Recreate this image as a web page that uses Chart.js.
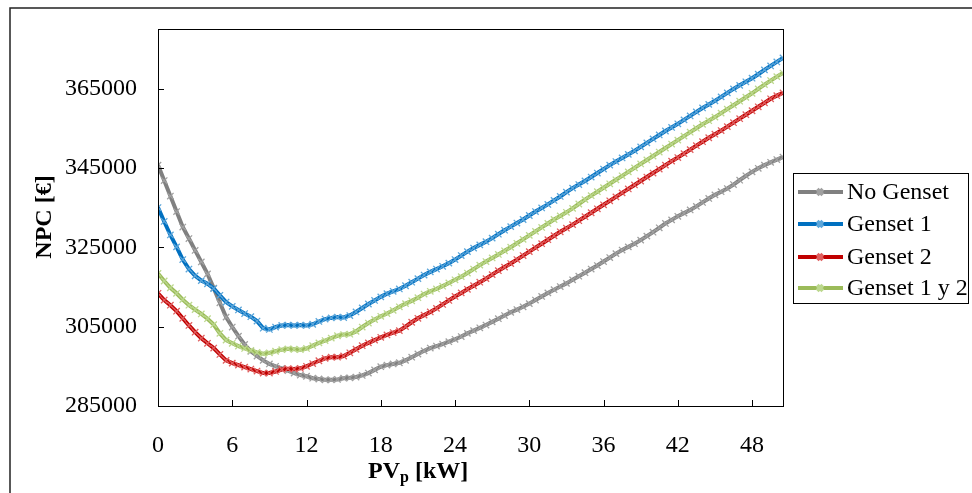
<!DOCTYPE html>
<html>
<head>
<meta charset="utf-8">
<script src="https://cdn.jsdelivr.net/npm/chart.js@4.4.0/dist/chart.umd.min.js"></script>
<style>
  html, body { margin: 0; padding: 0; background: #fff; }
  #wrap { width: 972px; height: 493px; }
</style>
</head>
<body>
<div id="wrap"><canvas id="npcChart" width="972" height="493"></canvas></div>
<script>
// PV power (kW) for each simulated case
const pvKw = [
    0, 0.5, 1, 1.5, 2, 2.5, 3, 3.5, 4, 4.5,
    5, 5.5, 6, 6.5, 7, 7.5, 8, 8.5, 9, 9.5,
    10, 10.5, 11, 11.5, 12, 12.5, 13, 13.5, 14, 14.5,
    15, 15.5, 16, 16.5, 17, 17.5, 18, 18.5, 19, 19.5,
    20, 20.5, 21, 21.5, 22, 22.5, 23, 23.5, 24, 24.5,
    25, 25.5, 26, 26.5, 27, 27.5, 28, 28.5, 29, 29.5,
    30, 30.5, 31, 31.5, 32, 32.5, 33, 33.5, 34, 34.5,
    35, 35.5, 36, 36.5, 37, 37.5, 38, 38.5, 39, 39.5,
    40, 40.5, 41, 41.5, 42, 42.5, 43, 43.5, 44, 44.5,
    45, 45.5, 46, 46.5, 47, 47.5, 48, 48.5, 49, 49.5,
    50, 50.5
];

// NPC in euro per configuration
const noGenset = [
    345700, 341800, 337900, 334000, 330100, 327200, 324200, 321300, 318300, 314700,
    311000, 307400, 304900, 302600, 300500, 298800, 297600, 296500, 295600, 295000,
    294500, 293900, 293300, 292800, 292500, 292000, 291800, 291600, 291600, 291700,
    292000, 292100, 292300, 292700, 293300, 294100, 294900, 295300, 295600, 295900,
    296500, 297300, 298100, 298900, 299600, 300100, 300600, 301200, 301800, 302500,
    303300, 304000, 304700, 305400, 306200, 307000, 307800, 308600, 309300, 310000,
    310800, 311700, 312600, 313500, 314300, 315100, 315900, 316800, 317700, 318600,
    319500, 320400, 321400, 322400, 323400, 324300, 325100, 325900, 326800, 327800,
    328800, 329900, 331000, 331900, 332800, 333600, 334400, 335300, 336300, 337300,
    338200, 339000, 339800, 340800, 341900, 343000, 344000, 344900, 345700, 346400,
    347100, 347700
];
const genset1 = [
    335000, 331500, 328100, 325100, 321900, 319500, 317800, 316600, 315800, 314600,
    312900, 311200, 310100, 309200, 308300, 307500, 306400, 304600, 304300, 304900,
    305300, 305400, 305300, 305400, 305300, 305600, 306300, 306900, 307200, 307400,
    307300, 307800, 308700, 309700, 310700, 311600, 312500, 313300, 313900, 314500,
    315300, 316200, 317100, 318000, 318800, 319500, 320200, 321000, 321900, 322900,
    323900, 324800, 325600, 326400, 327300, 328300, 329300, 330200, 331100, 332000,
    333000, 334000, 334900, 335800, 336800, 337800, 338900, 339900, 340800, 341700,
    342700, 343700, 344700, 345700, 346600, 347500, 348400, 349300, 350300, 351300,
    352300, 353300, 354300, 355200, 356100, 357100, 358100, 359100, 360100, 361000,
    361900, 362900, 363900, 364900, 365800, 366700, 367600, 368600, 369700, 370700,
    371700, 372700
];
const genset2 = [
    313400, 311700, 310400, 308900, 307100, 305300, 303600, 302100, 300800, 299600,
    298000, 296500, 295800, 295300, 294800, 294300, 293800, 293300, 293300, 293700,
    294200, 294400, 294300, 294500, 295000, 295700, 296400, 297000, 297300, 297300,
    297600, 298400, 299300, 300200, 300900, 301600, 302300, 302900, 303500, 304000,
    305000, 306100, 307100, 307900, 308700, 309600, 310600, 311600, 312600, 313500,
    314400, 315300, 316200, 317100, 318100, 319100, 320000, 320900, 321900, 322900,
    323900, 324900, 325900, 326900, 327900, 328900, 329800, 330700, 331700, 332700,
    333700, 334700, 335700, 336700, 337700, 338700, 339700, 340700, 341700, 342700,
    343700, 344700, 345700, 346700, 347600, 348600, 349600, 350600, 351600, 352600,
    353500, 354400, 355400, 356400, 357400, 358400, 359400, 360400, 361400, 362400,
    363200, 363900
];
const genset12 = [
    318400, 316500, 314800, 313400, 311800, 310400, 309300, 308200, 307000, 305500,
    303300, 301600, 300800, 300100, 299500, 299000, 298500, 298200, 298400, 298800,
    299200, 299400, 299300, 299200, 299500, 300200, 300900, 301500, 302100, 302700,
    303000, 303100, 303800, 304900, 305900, 306800, 307600, 308300, 309100, 310000,
    310800, 311500, 312300, 313200, 313900, 314500, 315200, 316000, 316800, 317600,
    318500, 319500, 320500, 321400, 322300, 323200, 324100, 325000, 326000, 327000,
    328000, 329000, 330000, 331000, 332000, 332900, 333800, 334800, 335900, 337000,
    338000, 339000, 340000, 341000, 342000, 343000, 344000, 345000, 346000, 347000,
    348000, 349000, 350000, 351000, 352000, 353000, 354000, 355000, 356000, 356900,
    357800, 358800, 359800, 360800, 361800, 362800, 363800, 364900, 366000, 367000,
    368000, 368900
];

const seriesNames = ['No Genset', 'Genset 1', 'Genset 2', 'Genset 1 y 2'];
const xTicks = [0, 6, 12, 18, 24, 30, 36, 42, 48];
const yTicks = [285000, 305000, 325000, 345000, 365000];

const lineColors = ['#808080', '#0070C0', '#C00000', '#9BBB59'];
const markColors = ['#a0a0a0', '#5ca6da', '#e06060', '#bcd88e'];
const serif = '"Liberation Serif", "Times New Roman", serif';

function toPoints(values) {
    return values.map((v, i) => ({ x: pvKw[i], y: v }));
}

const allSeries = [noGenset, genset1, genset2, genset12];
const datasets = allSeries.map((vals, i) => ({
    label: seriesNames[i],
    data: toPoints(vals),
    borderColor: lineColors[i],
    borderWidth: 4,
    pointStyle: 'crossRot',
    pointRadius: 4.5,
    pointBorderWidth: 1.3,
    pointBorderColor: markColors[i],
    pointBackgroundColor: markColors[i],
    tension: 0,
    order: 4 - i
}));

// frame, plot border, inward tick marks, titles and legend box
const decorations = {
    id: 'decorations',
    afterDraw(chart) {
        const ctx = chart.ctx;
        const area = chart.chartArea;
        const xs = chart.scales.x;
        const ys = chart.scales.y;
        ctx.save();

        ctx.strokeStyle = '#222';
        ctx.lineWidth = 1.5;
        ctx.strokeRect(10, 8, 1200, 1200);

        ctx.strokeStyle = '#000';
        ctx.lineWidth = 1;
        ctx.strokeRect(Math.round(area.left) + 0.5, Math.round(area.top) + 0.5,
            Math.round(area.right - area.left), Math.round(area.bottom - area.top));

        ctx.beginPath();
        xTicks.forEach(t => {
            const px = Math.round(xs.getPixelForValue(t)) + 0.5;
            ctx.moveTo(px, area.bottom);
            ctx.lineTo(px, area.bottom - 6);
        });
        yTicks.forEach(t => {
            const py = Math.round(ys.getPixelForValue(t)) + 0.5;
            ctx.moveTo(area.left, py);
            ctx.lineTo(area.left + 6, py);
        });
        ctx.stroke();

        // axis titles
        ctx.fillStyle = '#000';
        ctx.textBaseline = 'alphabetic';
        ctx.textAlign = 'left';
        let tx = 368;
        const by = 478;
        ctx.font = 'bold 24px ' + serif;
        ctx.fillText('PV', tx, by);
        tx += ctx.measureText('PV').width;
        ctx.font = 'bold 16px ' + serif;
        ctx.fillText('p', tx, by + 4);
        tx += ctx.measureText('p').width;
        ctx.font = 'bold 24px ' + serif;
        ctx.fillText(' [kW]', tx, by);

        ctx.save();
        ctx.translate(51, 217);
        ctx.rotate(-Math.PI / 2);
        ctx.textAlign = 'center';
        ctx.fillText('NPC [€]', 0, 0);
        ctx.restore();

        // legend
        ctx.strokeStyle = '#000';
        ctx.lineWidth = 1;
        ctx.fillStyle = '#fff';
        ctx.fillRect(793.5, 173.5, 175, 130);
        ctx.strokeRect(793.5, 173.5, 175, 130);
        const rows = [192, 224, 257, 288];
        chart.data.datasets.forEach((ds, i) => {
            const y = rows[i];
            ctx.strokeStyle = ds.borderColor;
            ctx.lineWidth = 4;
            ctx.beginPath();
            ctx.moveTo(798, y);
            ctx.lineTo(843, y);
            ctx.stroke();
            ctx.strokeStyle = ds.pointBorderColor;
            Chart.helpers.drawPoint(ctx, {
                pointStyle: 'crossRot', radius: 4, borderWidth: 1.3
            }, 820, y);
            ctx.fillStyle = '#000';
            ctx.font = '24px ' + serif;
            ctx.textBaseline = 'middle';
            ctx.fillText(ds.label, 847, y + 1);
        });
        ctx.restore();
    }
};

const chart = new Chart(document.getElementById('npcChart'), {
    type: 'line',
    data: { datasets: datasets },
    options: {
        responsive: false,
        animation: false,
        events: [],
        layout: { padding: { left: 0, top: 29, right: 189, bottom: 0 } },
        plugins: { legend: { display: false }, tooltip: { enabled: false } },
        scales: {
            x: {
                type: 'linear',
                min: 0,
                max: 50.5,
                afterBuildTicks: s => { s.ticks = xTicks.map(v => ({ value: v })); },
                afterFit: s => { s.height = 87; },
                grid: { display: false },
                border: { display: false },
                ticks: {
                    color: '#000',
                    padding: 17,
                    maxRotation: 0,
                    font: { family: serif, size: 24 },
                    callback: v => String(v)
                }
            },
            y: {
                min: 285000,
                max: 380000,
                afterBuildTicks: s => { s.ticks = yTicks.map(v => ({ value: v })); },
                afterFit: s => { s.width = 158; },
                grid: { display: false },
                border: { display: false },
                ticks: {
                    color: '#000',
                    padding: 13,
                    font: { family: serif, size: 24 },
                    callback: v => String(v)
                }
            }
        }
    },
    plugins: [decorations]
});
</script>
</body>
</html>
